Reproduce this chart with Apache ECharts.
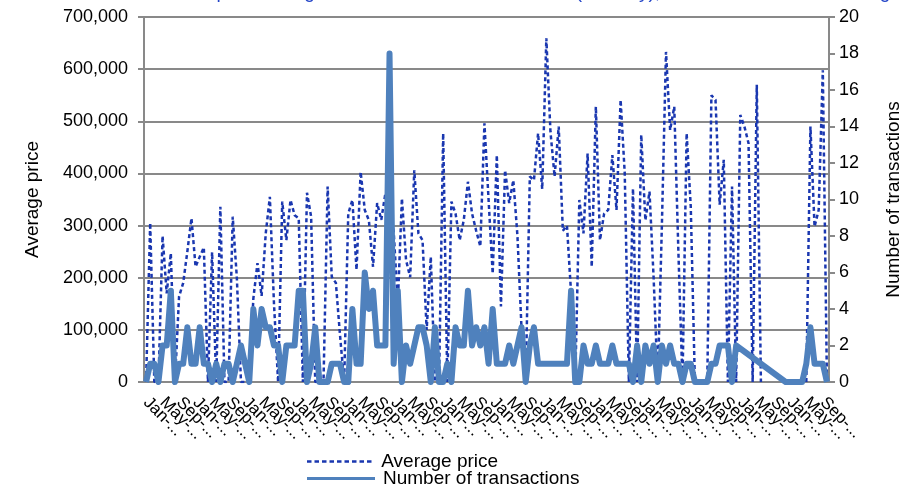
<!DOCTYPE html>
<html>
<head>
<meta charset="utf-8">
<title>Average price and number of transactions</title>
<script src="https://cdn.jsdelivr.net/npm/echarts@6/dist/echarts.min.js"></script>
<style>
html, body { margin: 0; padding: 0; background: #fff; }
#chart { width: 912px; height: 485px; }
</style>
</head>
<body>
<div id="chart"></div>
<script>
// month labels (166 months, Jan of first year to Oct of the 14th)
var monthNames = ['Jan', 'Feb', 'Mar', 'Apr', 'May', 'Jun', 'Jul', 'Aug', 'Sep', 'Oct', 'Nov', 'Dec'];
var firstYear = 2000;
var monthCount = 166;

// average price (left axis)
var avgPrice = [
	0, 305000, 0, 0, 280000, 170000, 247000, 0, 164000, 190000,
	250000, 314000, 221000, 240000, 258000, 0, 249000, 0, 336000, 0,
	0, 317000, 200000, 0, 0, 0, 160000, 228000, 165000, 285000,
	355000, 150000, 0, 346000, 272000, 349000, 320000, 314000, 0, 363000,
	317000, 0, 0, 0, 375000, 202000, 190000, 90000, 0, 323000,
	349000, 215000, 403000, 330000, 310000, 221000, 343000, 311000, 362000, 330000,
	290000, 150000, 352000, 234000, 201000, 406000, 285000, 272000, 100000, 240000,
	0, 0, 477000, 0, 346000, 323000, 272000, 311000, 384000, 323000,
	290000, 260000, 496000, 350000, 208000, 435000, 145000, 406000, 343000, 387000,
	280000, 100000, 0, 394000, 387000, 477000, 370000, 659000, 480000, 394000,
	490000, 290000, 300000, 170000, 0, 349000, 285000, 438000, 221000, 528000,
	272000, 323000, 330000, 435000, 330000, 541000, 400000, 0, 371000, 0,
	474000, 310000, 365000, 200000, 0, 300000, 633000, 483000, 528000, 250000,
	0, 477000, 336000, 0, 0, 0, 0, 550000, 541000, 340000,
	426000, 0, 375000, 0, 512000, 490000, 458000, 0, 570000, 0,
	null, null, null, null, null, null, null, null, null, null,
	0, 490000, 298000, 330000, 598000, 0
];

// number of transactions (right axis); the gap is bridged in the original
var transactions = [
	0, 1, 1, 0, 2, 2, 5, 0, 1, 1,
	3, 1, 1, 3, 1, 1, 0, 1, 0, 1,
	1, 0, 1, 2, 1, 0, 4, 2, 4, 3,
	3, 2, 2, 0, 2, 2, 2, 5, 5, 0,
	1, 3, 0, 0, 0, 1, 1, 1, 0, 0,
	4, 1, 1, 6, 4, 5, 2, 2, 2, 18,
	1, 5, 0, 2, 1, 2, 3, 3, 2, 0,
	3, 0, 0, 1, 0, 3, 2, 2, 5, 2,
	3, 2, 3, 1, 4, 1, 1, 1, 2, 1,
	2, 3, 0, 2, 3, 1, 1, 1, 1, 1,
	1, 1, 1, 5, 0, 0, 2, 1, 1, 2,
	1, 1, 1, 2, 1, 1, 1, 1, 0, 2,
	0, 2, 1, 2, 0, 2, 1, 2, 1, 1,
	0, 1, 1, 0, 0, 0, 0, 1, 1, 2,
	2, 2, 0, 2, null, null, null, null, null, null,
	null, null, null, null, null, 0, 0, 0, 0, 0,
	1, 3, 1, 1, 1, 0
];

var categories = [];
for (var i = 0; i < monthCount; i++) {
	categories.push(monthNames[i % 12] + '-' + (firstYear + Math.floor(i / 12)));
}

var font = 'Liberation Sans, Arial, sans-serif';
var gray = '#898989';
var priceColor = '#1a37b0';
var countColor = '#4f81bd';

// short dashes for the legend sample of the dotted series
var dashIcon = 'path://M0,0h4.5v2.5h-4.5z M7.5,0h4.5v2.5h-4.5z M15,0h4.5v2.5h-4.5z M22.5,0h4.5v2.5h-4.5z M30,0h4.5v2.5h-4.5z M37.5,0h4.5v2.5h-4.5z M45,0h4.5v2.5h-4.5z M52.5,0h4.5v2.5h-4.5z M60,0h4.5v2.5h-4.5z';

function legendBox(name, icon, h, top) {
	return {
		orient: 'vertical',
		left: 302,
		top: top,
		itemWidth: 68,
		itemHeight: h,
		icon: icon,
		textStyle: { fontFamily: font, fontSize: 19, color: '#000', padding: [0, 0, 0, 3] },
		data: [name]
	};
}

// x label look shared by the two bottom axes
function monthLabel(extra) {
	var l = {
		rotate: -45,
		margin: 18,
		fontFamily: font,
		fontSize: 17,
		color: '#000',
		width: 54,
		overflow: 'truncate',
		ellipsis: '...'
	};
	for (var k in extra) l[k] = extra[k];
	return l;
}

var chart = echarts.init(document.getElementById('chart'));
var option = {
	animation: false,
	backgroundColor: '#fff',
	title: {
		text: 'Median price changes and number of transactions (monthly), all new residential dwellings by type',
		left: 144,
		top: -22,
		textStyle: { fontFamily: font, fontSize: 19, fontWeight: 'normal', color: '#2445c8' }
	},
	legend: [
		legendBox('Average price', dashIcon, 2.5, 447),
		legendBox('Number of transactions', 'rect', 3, 464)
	],
	grid: { left: 144, right: 83, top: 17, bottom: 103, outerBoundsMode: 'none' },
	xAxis: [{
		type: 'category',
		data: categories,
		boundaryGap: true,
		axisLine: { lineStyle: { color: gray, width: 2 } },
		axisTick: { interval: 3, length: 5, lineStyle: { color: gray, width: 2 } },
		axisLabel: monthLabel({ interval: 3, showMinLabel: false, showMaxLabel: false }),
		splitLine: { show: false }
	}, {
		// carries the first and last month labels, which the main axis drops
		type: 'category',
		data: categories,
		position: 'bottom',
		boundaryGap: true,
		axisLine: { show: false },
		axisTick: { show: false },
		axisLabel: monthLabel({
			interval: function (idx) { return idx === 0 || idx === 164; }
		}),
		splitLine: { show: false }
	}],
	yAxis: [{
		type: 'value',
		min: 0,
		max: 700000,
		interval: 100000,
		name: 'Average price',
		nameLocation: 'middle',
		nameGap: 102,
		nameRotate: 90,
		nameTextStyle: { fontFamily: font, fontSize: 19, color: '#000' },
		axisLine: { show: true, lineStyle: { color: gray, width: 2 } },
		axisTick: { show: true, length: 6, lineStyle: { color: gray, width: 2 } },
		axisLabel: {
			margin: 16,
			fontFamily: font,
			fontSize: 18,
			color: '#000',
			formatter: function (v) { return v.toLocaleString('en-US'); }
		},
		splitLine: { show: true, lineStyle: { color: gray, width: 2 } }
	}, {
		type: 'value',
		position: 'right',
		min: 0,
		max: 20,
		interval: 2,
		name: 'Number of transactions',
		nameLocation: 'middle',
		nameGap: 55,
		nameRotate: 90,
		nameTextStyle: { fontFamily: font, fontSize: 19, color: '#000' },
		axisLine: { show: true, lineStyle: { color: gray, width: 2 } },
		axisTick: { show: true, length: 6, lineStyle: { color: gray, width: 2 } },
		axisLabel: { margin: 10, fontFamily: font, fontSize: 18, color: '#000' },
		splitLine: { show: false }
	}],
	series: [{
		name: 'Average price',
		type: 'line',
		xAxisIndex: 0,
		yAxisIndex: 0,
		data: avgPrice,
		symbol: 'none',
		lineStyle: { color: priceColor, width: 2.5, type: [4, 3] },
		itemStyle: { color: priceColor }
	}, {
		name: 'Number of transactions',
		type: 'line',
		xAxisIndex: 0,
		yAxisIndex: 1,
		data: transactions,
		symbol: 'none',
		connectNulls: true,
		lineStyle: { color: countColor, width: 6, join: 'round' },
		itemStyle: { color: countColor }
	}]
};
chart.setOption(option);
</script>
</body>
</html>
